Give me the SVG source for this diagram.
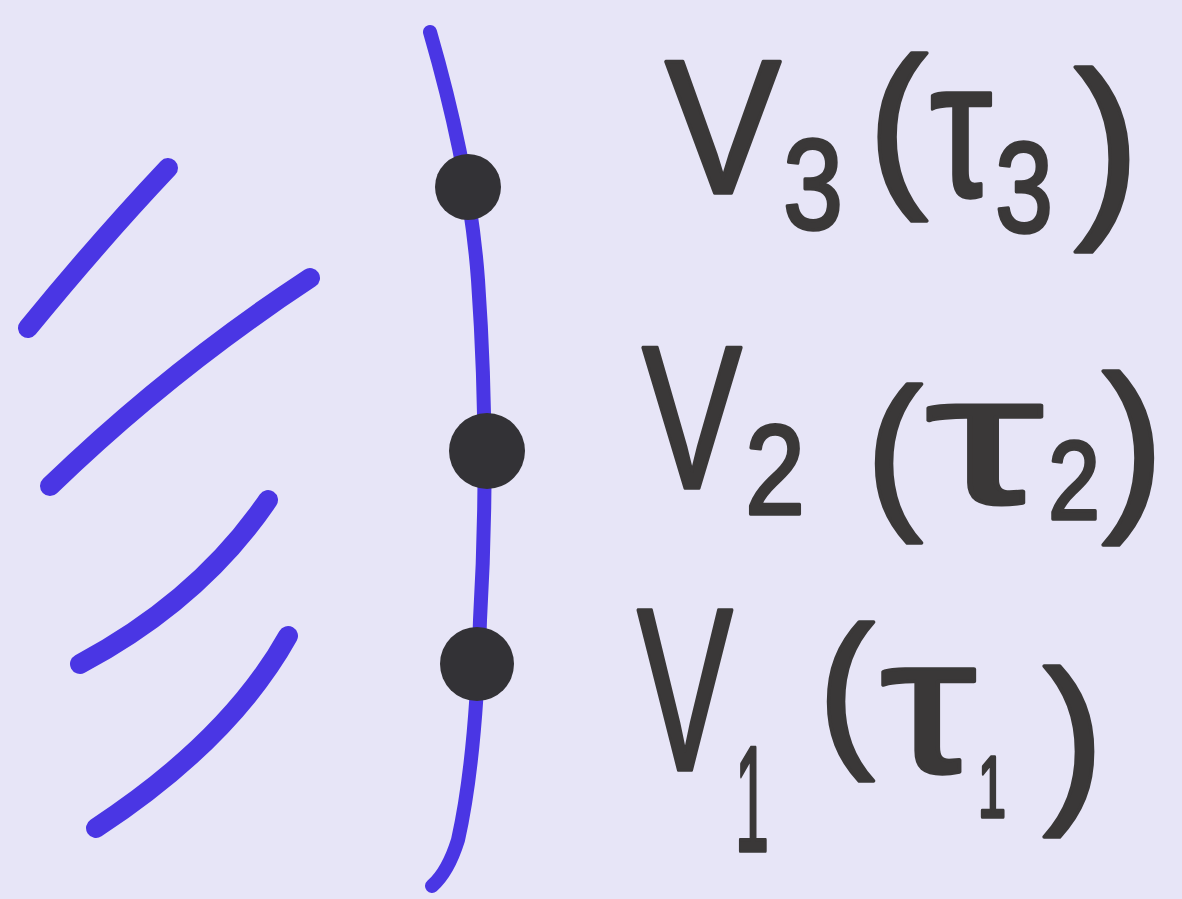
<svg xmlns="http://www.w3.org/2000/svg" width="1182" height="899" viewBox="0 0 1182 899">
<style>
.bg{fill:#e7e5f7}
.blue{fill:none;stroke:#4a36e4;stroke-linecap:round;stroke-linejoin:round}
.dot{fill:#333236}
.t{font-family:"Liberation Sans","DejaVu Sans",sans-serif;fill:#3a3838;stroke:#3a3838;stroke-width:3.5;stroke-linejoin:round}
</style>
<rect class="bg" x="0" y="0" width="1182" height="899"/>
<g id="hatching">
<path class="blue" stroke-width="20" d="M28,328 Q100,240 168,168"/>
<path class="blue" stroke-width="20" d="M50,486 Q170,370 310,278"/>
<path class="blue" stroke-width="20" d="M80,664 Q200,600 268,500"/>
<path class="blue" stroke-width="20" d="M96,828 Q230,740 288,636"/>
</g>
<g id="connectors">
<path id="worldline" class="blue" stroke-width="14" d="M430,32 Q470,170 478,280 Q490,450 480,620 Q476,760 458,840 Q448,872 432,886"/>
</g>
<g id="v3">
<circle class="dot" cx="468" cy="187" r="33"/>
<text class="t" x="665" y="193" font-size="192" textLength="116" lengthAdjust="spacingAndGlyphs">V</text>
<text class="t" x="783" y="229" font-size="128" textLength="60" lengthAdjust="spacingAndGlyphs">3</text>
<text class="t" x="868" y="184" font-size="180">(</text>
<text class="t" x="930" y="196" font-size="195" textLength="62" lengthAdjust="spacingAndGlyphs">τ</text>
<text class="t" x="995" y="232" font-size="128" textLength="58" lengthAdjust="spacingAndGlyphs">3</text>
<text class="t" x="1074" y="211" font-size="198">)</text>
</g>
<g id="v2">
<circle class="dot" cx="487" cy="451" r="38"/>
<text class="t" x="642" y="488" font-size="205" textLength="100" lengthAdjust="spacingAndGlyphs">V</text>
<text class="t" x="745" y="514" font-size="128" textLength="60" lengthAdjust="spacingAndGlyphs">2</text>
<text class="t" x="866" y="508" font-size="170">(</text>
<text class="t" x="925" y="503" font-size="185" textLength="118" lengthAdjust="spacingAndGlyphs">τ</text>
<text class="t" x="1048" y="519" font-size="112" textLength="52" lengthAdjust="spacingAndGlyphs">2</text>
<text class="t" x="1102" y="506" font-size="186">)</text>
</g>
<g id="v1">
<circle class="dot" cx="477" cy="664" r="37"/>
<text class="t" x="637" y="770" font-size="232" textLength="96" lengthAdjust="spacingAndGlyphs">V</text>
<text class="t" x="735" y="851" font-size="150" textLength="34" lengthAdjust="spacingAndGlyphs">1</text>
<text class="t" x="818" y="746" font-size="170">(</text>
<text class="t" x="880" y="772" font-size="195" textLength="96" lengthAdjust="spacingAndGlyphs">τ</text>
<text class="t" x="978" y="817" font-size="88" textLength="28" lengthAdjust="spacingAndGlyphs">1</text>
<text class="t" x="1043" y="799" font-size="183">)</text>
</g>
</svg>
